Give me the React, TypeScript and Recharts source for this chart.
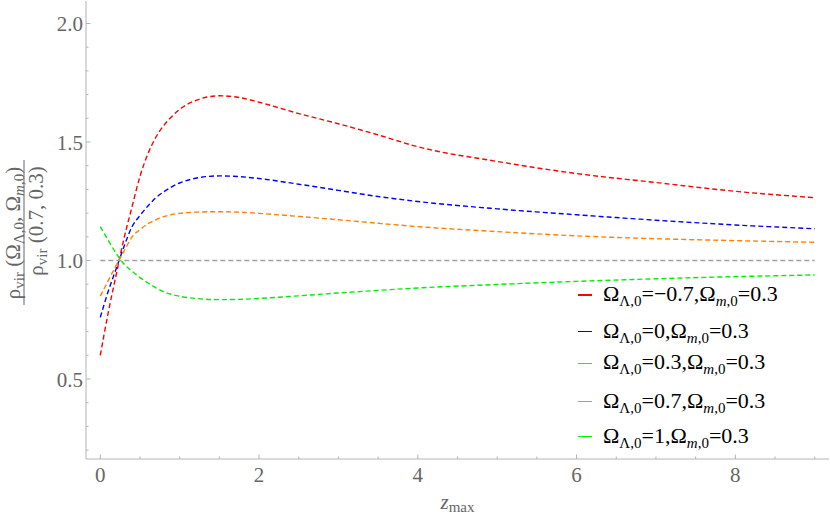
import React from 'react';
import { LineChart, Line, XAxis, YAxis, Legend } from 'recharts';

// ---------- data ----------
const zValues = [0, 0.1, 0.2, 0.3, 0.4, 0.5, 0.6, 0.7, 0.8, 0.9, 1.0, 1.2, 1.5, 1.75, 2.0, 2.5, 3.0, 3.5, 4.0, 5.0, 6.0, 7.0, 8.0, 9.0];
const redValues = [0.6, 0.78, 0.94, 1.095, 1.227, 1.355, 1.45, 1.52, 1.57, 1.607, 1.638, 1.675, 1.695, 1.688, 1.668, 1.62, 1.577, 1.53, 1.48, 1.418, 1.367, 1.329, 1.292, 1.265];
const blueValues = [0.76, 0.87, 0.965, 1.06, 1.143, 1.19, 1.23, 1.265, 1.29, 1.311, 1.327, 1.347, 1.357, 1.354, 1.346, 1.322, 1.296, 1.27, 1.249, 1.218, 1.193, 1.17, 1.15, 1.134];
const orangeValues = [0.85, 0.915, 0.98, 1.04, 1.1, 1.13, 1.155, 1.172, 1.185, 1.194, 1.199, 1.204, 1.206, 1.204, 1.199, 1.186, 1.172, 1.157, 1.143, 1.122, 1.104, 1.092, 1.084, 1.077];
const grayValues = [1, 1, 1, 1, 1, 1, 1, 1, 1, 1, 1, 1, 1, 1, 1, 1, 1, 1, 1, 1, 1, 1, 1, 1];
const greenValues = [1.143, 1.085, 1.03, 0.985, 0.955, 0.928, 0.905, 0.885, 0.868, 0.857, 0.849, 0.84, 0.835, 0.836, 0.84, 0.851, 0.863, 0.874, 0.884, 0.899, 0.912, 0.923, 0.932, 0.939];

const lambdaLabels = ['−0.7', '0', '0.3', '0.7', '1'];
const seriesKeys = ['red', 'blue', 'orange', 'gray', 'green'];
const seriesColors = ['#ff0000', '#0000ff', '#ff8000', '#a0a0a0', '#00ee00'];
const seriesValues = [redValues, blueValues, orangeValues, grayValues, greenValues];

const xTicks = [0, 0.5, 1, 1.5, 2, 2.5, 3, 3.5, 4, 4.5, 5, 5.5, 6, 6.5, 7, 7.5, 8, 8.5, 9];
const xMajorTicks = [0, 2, 4, 6, 8];
const yTicks = [0.2, 0.3, 0.4, 0.5, 0.6, 0.7, 0.8, 0.9, 1.0, 1.1, 1.2, 1.3, 1.4, 1.5, 1.6, 1.7, 1.8, 1.9, 2.0];
const yMajorTicks = [0.5, 1.0, 1.5, 2.0];

const chartData = zValues.map((z, i) => {
  const row: Record<string, number> = { z };
  seriesKeys.forEach((k, j) => {
    row[k] = seriesValues[j][i];
  });
  return row;
});

// ---------- styles ----------
const SERIF = '"Liberation Serif", "Times New Roman", "DejaVu Serif", serif';
const FRAME = '#b4b4b4';
const TEXT = '#666666';
const MAJOR_LEN = 4.5;
const MINOR_LEN = 2.5;
const legendRowCenters = [25, 61.7, 93.3, 131.7, 166.7];

const isIn = (arr: number[], v: number) => arr.some((m) => Math.abs(m - v) < 1e-9);

function BottomTick(props: any) {
  const { x, y, payload } = props;
  const v = payload.value;
  const major = isIn(xMajorTicks, v);
  return (
    <g>
      <line x1={x} x2={x} y1={y} y2={y - (major ? MAJOR_LEN : MINOR_LEN)} stroke={FRAME} />
      {major && (
        <text x={x} y={y + 23} textAnchor="middle" fill={TEXT} fontSize={21} style={{ fontFamily: SERIF }}>
          {String(v)}
        </text>
      )}
    </g>
  );
}

function TopTick(props: any) {
  const { x, y, payload } = props;
  const major = isIn(xMajorTicks, payload.value);
  return <line x1={x} x2={x} y1={y} y2={y + (major ? MAJOR_LEN : MINOR_LEN)} stroke={FRAME} />;
}

function LeftTick(props: any) {
  const { x, y, payload } = props;
  const v = payload.value;
  const major = isIn(yMajorTicks, v);
  return (
    <g>
      <line x1={x} x2={x + (major ? MAJOR_LEN : MINOR_LEN)} y1={y} y2={y} stroke={FRAME} />
      {major && (
        <text x={x - 3} y={y + 7.5} textAnchor="end" fill={TEXT} fontSize={21} style={{ fontFamily: SERIF }}>
          {v.toFixed(1)}
        </text>
      )}
    </g>
  );
}

function RightTick(props: any) {
  const { x, y, payload } = props;
  const major = isIn(yMajorTicks, payload.value);
  return <line x1={x} x2={x - (major ? MAJOR_LEN : MINOR_LEN)} y1={y} y2={y} stroke={FRAME} />;
}

function XTitle(props: any) {
  const vb = props.viewBox || { x: 86, y: 459, width: 743, height: 57 };
  const cx = vb.x + vb.width / 2;
  return (
    <text x={cx} y={vb.y + 50} textAnchor="middle" fill={TEXT} fontSize={21} style={{ fontFamily: SERIF }}>
      <tspan fontStyle="italic">z</tspan>
      <tspan fontSize={15} dy={3}>max</tspan>
    </text>
  );
}

function YTitle(props: any) {
  const vb = props.viewBox || { x: 0, y: 1, width: 86, height: 458 };
  const cy = vb.y + vb.height / 2;
  return (
    <g fill={TEXT} style={{ fontFamily: SERIF }}>
      <text transform={`translate(19.5, ${cy + 3}) rotate(-90)`} textAnchor="middle" fontSize={21}>
        ρ<tspan fontSize={15} dy={4}>vir</tspan>
        <tspan dy={-4}> (Ω</tspan>
        <tspan fontSize={15} dy={4}>Λ,0</tspan>
        <tspan dy={-4}>, Ω</tspan>
        <tspan fontSize={15} dy={4}>
          <tspan fontStyle="italic">m</tspan>,0
        </tspan>
        <tspan dy={-4}>)</tspan>
      </text>
      <line x1={24} x2={24} y1={cy - 70} y2={cy + 75} stroke={TEXT} strokeWidth={1} />
      <text transform={`translate(42.5, ${cy - 9}) rotate(-90)`} textAnchor="middle" fontSize={21}>
        ρ<tspan fontSize={15} dy={4}>vir</tspan>
        <tspan dy={-4}> (0.7, 0.3)</tspan>
      </text>
    </g>
  );
}

function LegendBox() {
  return (
    <div style={{ position: 'relative', width: 255, height: 190, fontFamily: SERIF, color: '#000' }}>
      {lambdaLabels.map((lab, i) => (
        <div
          key={seriesKeys[i]}
          style={{
            position: 'absolute',
            left: 0,
            top: legendRowCenters[i] - 15,
            height: 30,
            display: 'flex',
            alignItems: 'center',
            whiteSpace: 'nowrap',
          }}
        >
          <div style={{ width: 14, height: 1.5, marginLeft: 8, backgroundColor: seriesColors[i], flex: '0 0 auto' }} />
          <span style={{ marginLeft: 11, fontSize: 22, lineHeight: '30px' }}>
            Ω<span style={{ fontSize: 15, position: 'relative', top: 5 }}>Λ,0</span>={lab},Ω
            <span style={{ fontSize: 15, position: 'relative', top: 5 }}>
              <i>m</i>,0
            </span>
            =0.3
          </span>
        </div>
      ))}
    </div>
  );
}

export default function App() {
  return (
    <div style={{ position: 'absolute', left: 0, top: 0, width: 830, height: 516, background: '#fff' }}>
      <LineChart width={830} height={516} data={chartData} margin={{ top: 1, right: 1, bottom: 0, left: 0 }}>
        <XAxis
          xAxisId="b"
          dataKey="z"
          type="number"
          domain={[-0.18, 9.18]}
          allowDataOverflow
          ticks={xTicks}
          interval={0}
          tickLine={false}
          tickSize={0}
          tickMargin={0}
          axisLine={{ stroke: FRAME }}
          height={57}
          tick={<BottomTick />}
          label={<XTitle />}
        />
        <XAxis
          xAxisId="t"
          dataKey="z"
          type="number"
          orientation="top"
          domain={[-0.18, 9.18]}
          allowDataOverflow
          ticks={xTicks}
          interval={0}
          tickLine={false}
          tickSize={0}
          tickMargin={0}
          axisLine={{ stroke: FRAME }}
          height={0}
          tick={<TopTick />}
        />
        <YAxis
          yAxisId="l"
          type="number"
          domain={[0.1625, 2.095]}
          allowDataOverflow
          ticks={yTicks}
          interval={0}
          tickLine={false}
          tickSize={0}
          tickMargin={0}
          axisLine={{ stroke: FRAME }}
          width={86}
          tick={<LeftTick />}
          label={<YTitle />}
        />
        <YAxis
          yAxisId="r"
          orientation="right"
          type="number"
          domain={[0.1625, 2.095]}
          allowDataOverflow
          ticks={yTicks}
          interval={0}
          tickLine={false}
          tickSize={0}
          tickMargin={0}
          axisLine={{ stroke: FRAME }}
          width={0}
          tick={<RightTick />}
        />
        <Legend
          layout="vertical"
          align="center"
          verticalAlign="middle"
          content={() => <LegendBox />}
          wrapperStyle={{ position: 'absolute', left: 570, top: 270, width: 255, height: 190 }}
        />
        {seriesKeys.map((k, i) => (
          <Line
            key={k}
            xAxisId="b"
            yAxisId="l"
            dataKey={k}
            type="monotone"
            stroke={seriesColors[i]}
            strokeWidth={1.4}
            strokeDasharray="5 3"
            dot={false}
            activeDot={false}
            isAnimationActive={false}
          />
        ))}
      </LineChart>
    </div>
  );
}
